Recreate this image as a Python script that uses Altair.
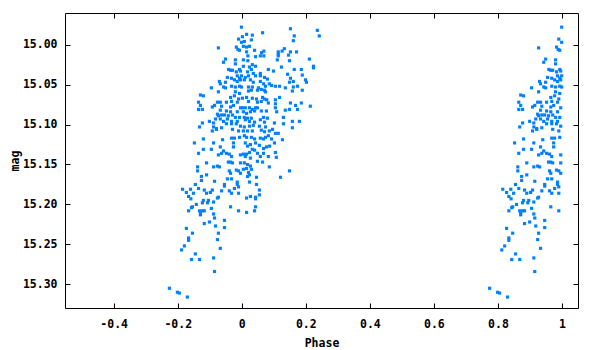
import altair as alt
import pandas as pd

# Light-curve points (phase, magnitude), phase range -0.25..0.25
PHASE = [
    -0.001, 0.152, 0.236, 0.015, 0.033, 0.065, 0.002, 0.164, 0.242, -0.010,
    0.030, 0.161, -0.001, 0.008, -0.073, -0.017, 0.005, 0.015, 0.024, -0.012,
    -0.007, 0.040, 0.062, 0.069, 0.114, 0.126, 0.133, 0.152, 0.171, 0.015,
    0.114, 0.114, 0.146, 0.058, 0.069, 0.043, 0.019, -0.051, -0.057, -0.020,
    0.005, 0.019, 0.111, 0.149, 0.211, -0.020, 0.005, 0.033, 0.043, 0.024,
    0.224, 0.224, 0.124, -0.041, -0.035, -0.029, -0.007, 0.030, 0.083, 0.099,
    0.164, 0.186, -0.017, -0.004, 0.018, 0.036, 0.058, 0.058, 0.189, 0.143,
    -0.045, -0.032, -0.014, -0.007, -0.001, 0.011, 0.021, 0.043, 0.071, 0.080,
    0.152, 0.199, 0.202, 0.161, -0.070, -0.051, -0.023, -0.014, -0.004, 0.008,
    0.027, 0.036, 0.058, 0.068, 0.086, 0.093, 0.149, 0.174, -0.095, -0.067,
    -0.057, -0.051, -0.032, -0.020, -0.007, -0.001, 0.021, 0.033, 0.052, 0.061,
    0.074, 0.105, 0.118, 0.136, 0.161, 0.189, -0.073, -0.020, -0.007, 0.021,
    0.030, 0.049, 0.071, 0.074, 0.158, -0.129, -0.120, -0.035, -0.023, -0.010,
    0.002, 0.015, 0.033, 0.046, 0.065, 0.071, 0.078, 0.105, 0.118, -0.135,
    -0.076, -0.067, -0.048, -0.032, -0.014, 0.021, 0.049, 0.061, 0.083, 0.105,
    0.152, 0.168, 0.186, 0.214, -0.129, -0.092, -0.085, -0.063, -0.035, -0.026,
    -0.004, 0.002, 0.011, 0.024, 0.033, 0.043, 0.049, 0.105, 0.136, 0.149,
    0.174, -0.135, -0.123, -0.067, -0.048, -0.035, -0.014, 0.005, 0.015, 0.027,
    0.040, 0.061, 0.077, 0.109, -0.076, -0.073, -0.063, -0.054, -0.042, -0.029,
    -0.020, -0.007, 0.008, 0.018, 0.030, 0.068, 0.080, 0.130, -0.101, -0.088,
    -0.082, -0.067, -0.057, -0.045, -0.032, -0.014, 0.011, 0.024, 0.040, 0.058,
    0.071, 0.102, 0.158, 0.180, -0.132, -0.123, -0.088, -0.079, -0.063, -0.048,
    -0.032, -0.017, -0.004, 0.008, 0.024, 0.036, 0.055, 0.074, 0.096, 0.130,
    0.158, -0.092, -0.079, -0.029, -0.010, 0.005, 0.018, 0.033, 0.061, 0.071,
    0.086, 0.105, 0.114, -0.120, -0.060, -0.032, -0.023, -0.007, 0.008, 0.015,
    0.030, 0.040, 0.058, 0.068, 0.074, 0.083, 0.093, 0.102, 0.127, -0.148,
    -0.088, -0.067, -0.026, -0.026, 0.011, 0.018, 0.027, 0.043, 0.055, 0.068,
    0.077, 0.087, -0.120, -0.095, -0.057, -0.048, -0.039, -0.004, 0.005, 0.015,
    0.024, 0.033, 0.040, 0.049, 0.068, 0.105, 0.083, 0.108, -0.135, -0.073,
    -0.063, -0.032, 0.011, 0.027, 0.058, -0.110, -0.088, -0.076, -0.070, -0.042,
    -0.035, -0.029, -0.004, 0.008, 0.018, 0.027, 0.049, 0.065, 0.086, 0.149,
    -0.138, -0.138, -0.126, -0.110, -0.039, -0.035, -0.017, -0.010, -0.004, 0.005,
    0.015, 0.021, 0.030, 0.018, 0.024, 0.046, 0.121, -0.045, -0.032,
    -0.126, -0.085, -0.054, -0.054, -0.014, -0.014, -0.010, 0.024, 0.046, -0.185,
    -0.173, -0.160, -0.145, -0.135, -0.117, -0.110, -0.098, -0.092, -0.063, -0.039,
    -0.032, -0.023, -0.010, 0.027, 0.055, 0.055, 0.043, 0.043, 0.015, -0.166,
    -0.159, -0.151, -0.142, -0.120, -0.104, -0.107, -0.088, -0.076, -0.073, -0.123,
    -0.154, -0.157, -0.166, -0.132, -0.123, -0.117, -0.129, -0.129, -0.095, -0.088,
    -0.035, -0.010, 0.015, 0.040, 0.043, -0.085, -0.101, -0.117, -0.054, -0.054,
    -0.082, -0.173, -0.154, -0.073, -0.166, -0.166, -0.076, -0.179, -0.188, -0.145,
    -0.067, -0.157, -0.132, -0.088, -0.085, -0.226, -0.201, -0.195, -0.170,
]

MAG = [
    14.978, 14.980, 14.982, 14.987, 14.988, 14.985, 14.990, 14.989, 14.989, 14.993,
    14.994, 14.995, 14.997, 14.996, 15.004, 15.003, 15.002, 15.003, 15.002, 15.006,
    15.007, 15.007, 15.010, 15.008, 15.009, 15.008, 15.005, 15.009, 15.009, 15.009,
    15.012, 15.014, 15.013, 15.014, 15.014, 15.015, 15.014, 15.018, 15.022, 15.019,
    15.019, 15.020, 15.019, 15.020, 15.018, 15.024, 15.027, 15.025, 15.027, 15.028,
    15.027, 15.029, 15.028, 15.031, 15.032, 15.032, 15.031, 15.031, 15.031, 15.033,
    15.031, 15.031, 15.034, 15.033, 15.034, 15.036, 15.036, 15.039, 15.038, 15.037,
    15.041, 15.042, 15.039, 15.042, 15.039, 15.041, 15.039, 15.039, 15.041, 15.043,
    15.042, 15.044, 15.047, 15.046, 15.046, 15.047, 15.044, 15.046, 15.044, 15.044,
    15.044, 15.047, 15.046, 15.049, 15.049, 15.051, 15.047, 15.052, 15.054, 15.049,
    15.053, 15.054, 15.052, 15.053, 15.052, 15.053, 15.053, 15.053, 15.054, 15.056,
    15.052, 15.052, 15.052, 15.054, 15.053, 15.057, 15.059, 15.059, 15.061, 15.058,
    15.057, 15.057, 15.057, 15.059, 15.058, 15.063, 15.064, 15.066, 15.064, 15.068,
    15.067, 15.066, 15.067, 15.068, 15.066, 15.068, 15.069, 15.069, 15.066, 15.072,
    15.072, 15.072, 15.072, 15.071, 15.072, 15.071, 15.072, 15.071, 15.073, 15.074,
    15.073, 15.076, 15.073, 15.077, 15.076, 15.078, 15.076, 15.077, 15.078, 15.076,
    15.079, 15.079, 15.079, 15.079, 15.081, 15.079, 15.079, 15.079, 15.082, 15.081,
    15.081, 15.081, 15.081, 15.082, 15.083, 15.084, 15.084, 15.084, 15.086, 15.084,
    15.083, 15.083, 15.083, 15.084, 15.087, 15.089, 15.088, 15.088, 15.089, 15.088,
    15.091, 15.091, 15.091, 15.092, 15.092, 15.091, 15.092, 15.091, 15.096, 15.098,
    15.093, 15.093, 15.096, 15.093, 15.096, 15.096, 15.094, 15.096, 15.097, 15.094,
    15.097, 15.098, 15.096, 15.096, 15.103, 15.098, 15.103, 15.105, 15.104, 15.099,
    15.099, 15.099, 15.102, 15.103, 15.102, 15.101, 15.102, 15.103, 15.106, 15.099,
    15.104, 15.108, 15.106, 15.106, 15.108, 15.108, 15.108, 15.108, 15.107, 15.109,
    15.108, 15.111, 15.111, 15.118, 15.119, 15.117, 15.117, 15.116, 15.114, 15.116,
    15.116, 15.118, 15.117, 15.118, 15.116, 15.114, 15.118, 15.123, 15.119, 15.123,
    15.123, 15.128, 15.123, 15.128, 15.123, 15.127, 15.125, 15.123, 15.126, 15.130,
    15.128, 15.127, 15.131, 15.131, 15.133, 15.136, 15.137, 15.138, 15.137, 15.137,
    15.135, 15.131, 15.132, 15.136, 15.136, 15.135, 15.140, 15.141, 15.136, 15.138,
    15.136, 15.140, 15.140, 15.142, 15.140, 15.148, 15.153, 15.152, 15.153, 15.147,
    15.147, 15.148, 15.148, 15.148, 15.150, 15.152, 15.146, 15.147, 15.153, 15.158,
    15.153, 15.158, 15.165, 15.163, 15.158, 15.161, 15.157, 15.158, 15.161, 15.156,
    15.155, 15.160, 15.156, 15.165, 15.163, 15.166, 15.166, 15.168, 15.168,
    15.170, 15.171, 15.175, 15.177, 15.172, 15.175, 15.178, 15.172, 15.175, 15.181,
    15.185, 15.181, 15.175, 15.180, 15.182, 15.186, 15.185, 15.182, 15.183, 15.183,
    15.186, 15.180, 15.186, 15.190, 15.182, 15.188, 15.191, 15.193, 15.192, 15.190,
    15.193, 15.186, 15.200, 15.195, 15.195, 15.198, 15.197, 15.192, 15.191, 15.198,
    15.203, 15.204, 15.208, 15.208, 15.208, 15.208, 15.211, 15.213, 15.205, 15.212,
    15.203, 15.208, 15.210, 15.208, 15.203, 15.217, 15.222, 15.224, 15.220, 15.229,
    15.227, 15.230, 15.236, 15.236, 15.242, 15.245, 15.244, 15.252, 15.257, 15.262,
    15.255, 15.269, 15.269, 15.267, 15.284, 15.305, 15.310, 15.311, 15.316,
]

X_TICKS = [-0.4, -0.2, 0, 0.2, 0.4, 0.6, 0.8, 1]
Y_TICKS = [15.00, 15.05, 15.10, 15.15, 15.20, 15.25, 15.30]
X_DOMAIN = [-0.552, 1.05]
Y_DOMAIN = [14.9603, 15.3297]

df = pd.DataFrame({"phase": PHASE, "mag": MAG})
# phases below zero are also shown one cycle later
wrapped = df[df["phase"] < 0].assign(phase=lambda d: d["phase"] + 1)
data = pd.concat([df, wrapped], ignore_index=True)

FONT = "DejaVu Sans Mono"
COLOR = "#0080ff"

xscale = alt.Scale(domain=X_DOMAIN, nice=False, zero=False)
yscale = alt.Scale(domain=Y_DOMAIN, reverse=True, nice=False, zero=False)

common = dict(
    domain=False, grid=False, ticks=True, tickSize=5, offset=-5,
    tickColor="black", tickWidth=1,
    labelFont=FONT, labelFontSize=11.5, labelFontWeight="bold", labelColor="black",
    titleFont=FONT, titleFontSize=11.5, titleFontWeight="bold", titleColor="black",
)

base = alt.Chart(data)

points = base.mark_square(size=10, opacity=1, color=COLOR, strokeWidth=0).encode(
    x=alt.X("phase:Q", scale=xscale,
            axis=alt.Axis(orient="bottom", values=X_TICKS, labelExpr="'' + datum.value",
                          title="Phase", labelPadding=10, titlePadding=8, **common)),
    y=alt.Y("mag:Q", scale=yscale,
            axis=alt.Axis(orient="left", values=Y_TICKS, format=".2f",
                          title="mag", labelPadding=8, titlePadding=2, **common)),
)

mirror = base.mark_square(size=10, opacity=0).encode(
    x=alt.X("phase:Q", scale=xscale,
            axis=alt.Axis(orient="top", values=X_TICKS, labels=False, title="", **common)),
    y=alt.Y("mag:Q", scale=yscale,
            axis=alt.Axis(orient="right", values=Y_TICKS, labels=False, title="", **common)),
)

chart = (
    alt.layer(points, mirror)
    .resolve_axis(x="independent", y="independent")
    .properties(
        width=513, height=295,
        autosize=alt.AutoSizeParams(type="none"),
        padding={"left": 57, "top": 5, "right": 12, "bottom": 42},
    )
    .configure_view(stroke="black", strokeWidth=1)
)

chart.save("out.html", embed_options={"renderer": "svg", "actions": False})
